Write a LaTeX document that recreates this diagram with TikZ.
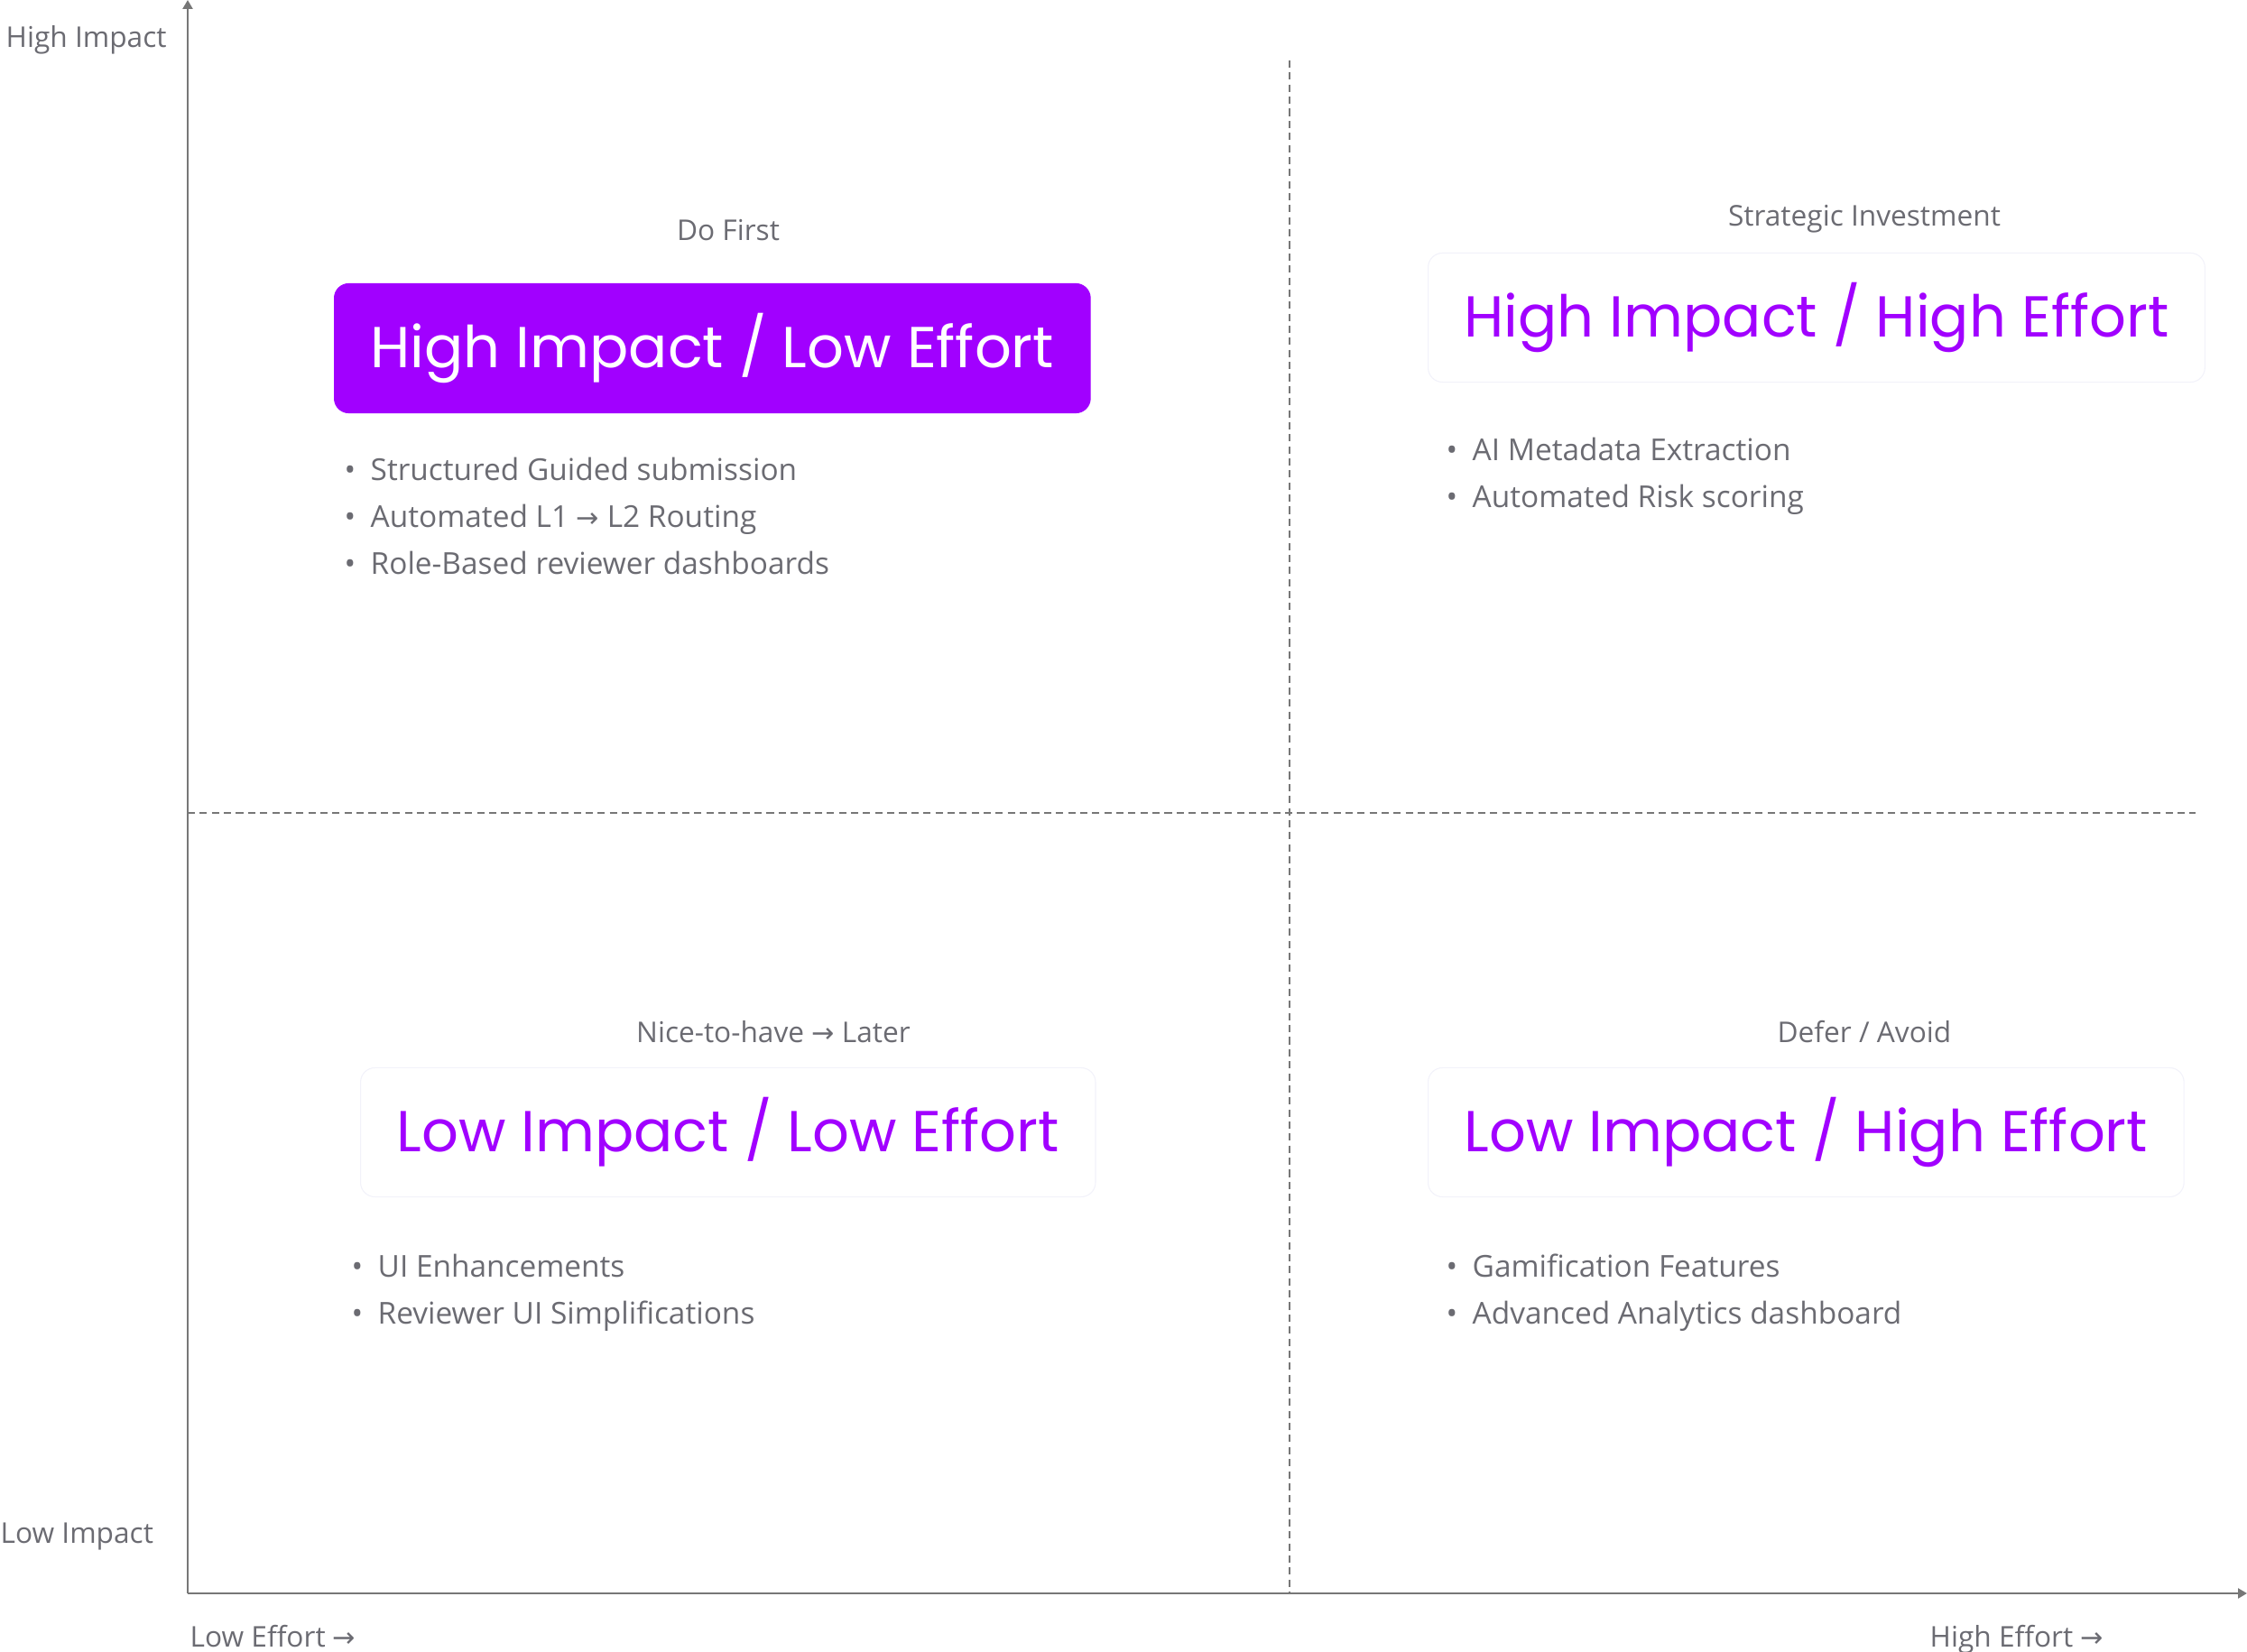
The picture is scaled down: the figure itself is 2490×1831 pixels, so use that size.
\documentclass[tikz,border=0pt]{standalone}
\usepackage{fontspec}
\setmainfont{Open Sans}
\newfontfamily\poppins{Poppins}
\newfontfamily\arrowfont{DejaVu Sans}
\usetikzlibrary{positioning}
\usetikzlibrary{arrows.meta}
\definecolor{accpurple}{HTML}{A100FF}
\definecolor{txtgray}{HTML}{6B6B72}
\definecolor{axgray}{HTML}{777777}
\definecolor{boxline}{HTML}{F2F2FA}
\newcommand{\rarr}{{\arrowfont\fontsize{8.6pt}{10pt}\selectfont →}}
\newcommand{\bul}{\makebox[0.29cm][l]{\textbullet}}
\tikzset{
    quadbox/.style = {rectangle, rounded corners=0.16cm, draw=boxline, line width=0.3pt, fill=white, minimum height=1.43cm, inner xsep=0.4cm, anchor=west, font=\poppins\fontsize{18.2pt}{20pt}\selectfont, text=accpurple},
    quadboxp/.style = {quadbox, draw=accpurple, fill=accpurple, text=white},
    quadlbl/.style = {font=\fontsize{9pt}{11pt}\selectfont, text=txtgray, anchor=base, inner sep=0pt},
    itemnode/.style = {font=\fontsize{9.5pt}{11pt}\selectfont, text=txtgray, anchor=base west, inner sep=0pt},
    axislbl/.style = {font=\fontsize{9pt}{11pt}\selectfont, text=txtgray, anchor=base west, inner sep=0pt},
    edgeax/.style = {-{Triangle[length=1mm,width=1.1mm]}, line width=0.7pt, axgray},
    edged/.style = {-, line width=0.4pt, axgray, dash pattern=on 2.3pt off 1.5pt}, % quadrant split
}

\begin{document}
\begin{tikzpicture}[x=0.01cm, y=-0.01cm]
    \useasboundingbox (0,0) rectangle (2490,1831);

    % axes
    \coordinate (org) at (208,1766);
    \coordinate (ytip) at (208,0);
    \coordinate (xtip) at (2490,1766);
    \coordinate (vtop) at (1429,67);
    \coordinate (vbot) at (1429,1766);
    \coordinate (hlft) at (208,901);
    \coordinate (hrgt) at (2433,901);
    \draw[edged] (vtop) -- (vbot);
    \draw[edged] (hlft) -- (hrgt);
    \draw[edgeax] (org) -- (ytip);
    \draw[edgeax] (org) -- (xtip);

    \node[axislbl] (hiimp) at (6,53) {High Impact};
    \node[axislbl] (loimp) at (0,1710) {Low Impact};
    \node[axislbl] (loeff) at (210,1825) {Low Effort \rarr};
    \node[axislbl] (hieff) at (2138,1825) {High Effort \rarr};

    % do first
    \node[quadlbl] (lbla) at (807,267) {Do First};
    \node[quadboxp] (boxa) at (370,386) {High Impact / Low Effort};
    \node[itemnode] (ita1) at (381,533) {\bul Structured Guided submission};
    \node[itemnode] (ita2) at (381,585) {\bul Automated L1 \rarr\ L2 Routing};
    \node[itemnode] (ita3) at (381,637) {\bul Role-Based reviewer dashboards};

    % strategic
    \node[quadlbl] (lblb) at (2066,251) {Strategic Investment};
    \node[quadbox] (boxb) at (1582,352) {High Impact / High Effort};
    \node[itemnode] (itb1) at (1602,511) {\bul AI Metadata Extraction};
    \node[itemnode] (itb2) at (1602,563) {\bul Automated Risk scoring};

    % later
    \node[quadlbl] (lblc) at (857,1155) {Nice-to-have \rarr\ Later};
    \node[quadbox] (boxc) at (399,1255) {Low Impact / Low Effort};
    \node[itemnode] (itc1) at (389,1415) {\bul UI Enhancements};
    \node[itemnode] (itc2) at (389,1467) {\bul Reviewer UI Simplifications};

    % defer
    \node[quadlbl] (lbld) at (2066,1155) {Defer / Avoid};
    \node[quadbox] (boxd) at (1582,1255) {Low Impact / High Effort};
    \node[itemnode] (itd1) at (1602,1415) {\bul Gamification Features};
    \node[itemnode] (itd2) at (1602,1467) {\bul Advanced Analytics dashboard};

\end{tikzpicture}
\end{document}
